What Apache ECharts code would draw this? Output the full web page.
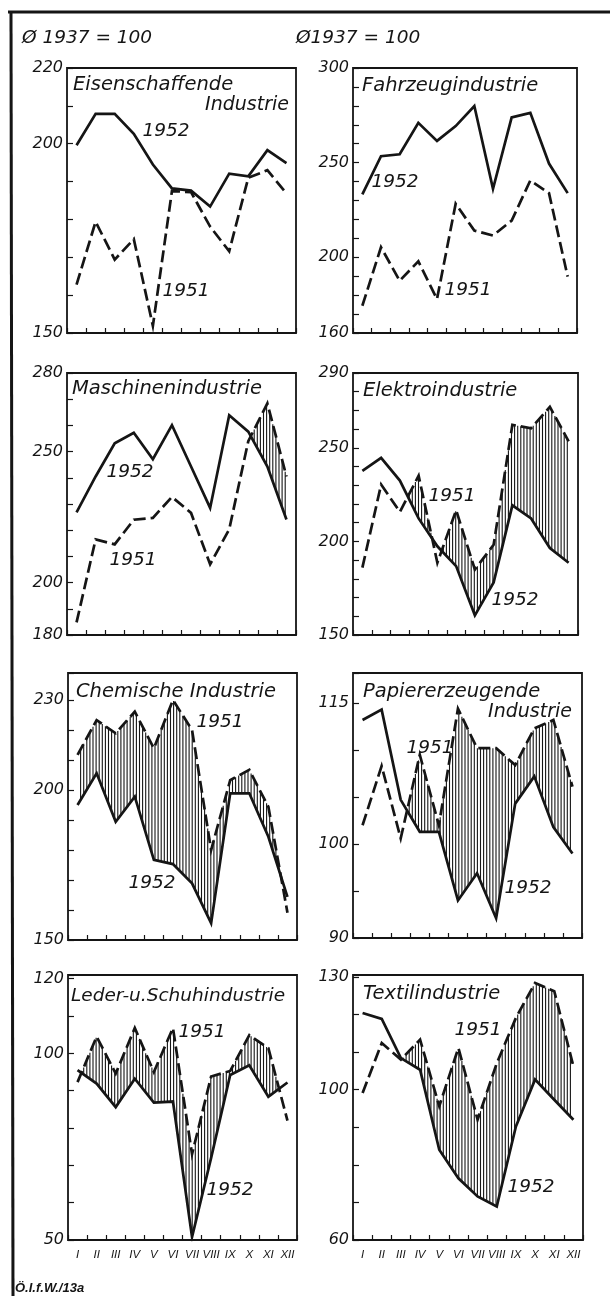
<!DOCTYPE html>
<html>
<head>
<meta charset="utf-8">
<script src="https://cdn.jsdelivr.net/npm/echarts@6/dist/echarts.min.js"></script>
<style>
  html, body { margin: 0; padding: 0; background: #fff; }
  #chart { width: 610px; height: 1296px; }
</style>
</head>
<body>
<div id="chart"></div>
<script>
// ---------- data ----------
const months = ['I','II','III','IV','V','VI','VII','VIII','IX','X','XI','XII'];

const eisen1952   = [199.6, 207.9, 207.9, 202.6, 194.5, 188.2, 187.6, 183.4, 192.1, 191.4, 198.3, 194.9];
const eisen1951   = [162.8, 179.4, 169.4, 174.8, 151.9, 187.5, 187.2, 178.1, 171.6, 191.0, 193.0, 186.9];

const fahrzeug1952 = [233.2, 253.4, 254.4, 271.0, 261.5, 269.3, 279.9, 236.2, 273.9, 276.3, 249.5, 233.9];
const fahrzeug1951 = [174.4, 205.3, 187.6, 197.9, 177.9, 228.3, 214.1, 211.5, 219.4, 240.6, 233.9, 189.8];

const masch1952 = [226.8, 240.5, 253.2, 257.2, 247.1, 260.1, 244.3, 228.5, 263.9, 257.6, 244.3, 224.1];
const masch1951 = [184.8, 216.5, 214.6, 224.0, 224.7, 232.7, 226.6, 207.0, 220.3, 254.0, 268.4, 240.5];

const elektro1952 = [237.7, 244.7, 232.5, 212.3, 197.4, 186.8, 160.5, 178.1, 219.3, 212.3, 196.5, 188.6];
const elektro1951 = [186.0, 230.4, 215.8, 235.1, 188.6, 216.7, 185.0, 198.2, 262.3, 260.5, 271.9, 253.5];

const chem1952 = [195.0, 205.6, 189.4, 197.8, 176.7, 175.3, 168.9, 155.6, 198.9, 198.9, 184.4, 164.4];
const chem1951 = [211.7, 223.3, 218.9, 226.1, 213.9, 230.0, 220.0, 180.0, 203.3, 206.7, 194.4, 159.1];

const papier1952 = [113.2, 114.3, 104.7, 101.3, 101.3, 94.0, 96.9, 92.1, 104.3, 107.2, 101.8, 99.0];
const papier1951 = [102.0, 108.3, 100.6, 109.5, 102.0, 114.4, 110.2, 110.2, 108.4, 112.3, 113.2, 106.1];

const leder1952 = [95.5, 91.9, 85.6, 93.2, 86.8, 87.1, 50.8, 72.0, 94.2, 96.8, 88.4, 92.2];
const leder1951 = [92.3, 104.5, 94.6, 106.8, 95.0, 106.8, 73.0, 93.8, 95.3, 104.9, 101.4, 82.0];

const textil1952 = [120.4, 118.8, 108.4, 105.3, 84.0, 76.4, 71.6, 68.9, 90.2, 102.7, 97.3, 92.0];
const textil1951 = [99.1, 112.4, 108.0, 113.3, 95.6, 111.1, 92.0, 107.0, 119.1, 128.4, 126.2, 106.2];

// tick labels shown on each y axis
const eisenTicks    = [220, 200, 150];
const fahrzeugTicks = [300, 250, 200, 160];
const maschTicks    = [280, 250, 200, 180];
const elektroTicks  = [290, 250, 200, 150];
const chemTicks     = [230, 200, 150];
const papierTicks   = [115, 100, 90];
const lederTicks    = [120, 100, 50];
const textilTicks   = [130, 100, 60];

// ---------- layout / styling ----------
const INK = '#151515';
const FONT = '"DejaVu Sans", "Noto Sans", sans-serif';

const panels = [
  { d52: eisen1952, d51: eisen1951, ticks: eisenTicks, min: 150, max: 220, step: 10,
    grid: { left: 67, top: 68, width: 229, height: 265 } },
  { d52: fahrzeug1952, d51: fahrzeug1951, ticks: fahrzeugTicks, min: 160, max: 300, step: 10,
    grid: { left: 353, top: 68, width: 224, height: 265 } },
  { d52: masch1952, d51: masch1951, ticks: maschTicks, min: 180, max: 280, step: 10,
    grid: { left: 67, top: 373, width: 229, height: 262 } },
  { d52: elektro1952, d51: elektro1951, ticks: elektroTicks, min: 150, max: 290, step: 10,
    grid: { left: 353, top: 373, width: 225, height: 262 } },
  { d52: chem1952, d51: chem1951, ticks: chemTicks, min: 150, max: 239, step: 10,
    grid: { left: 68, top: 673, width: 229, height: 267 } },
  { d52: papier1952, d51: papier1951, ticks: papierTicks, min: 90, max: 118.2, step: 5,
    grid: { left: 353, top: 673, width: 229, height: 265 } },
  { d52: leder1952, d51: leder1951, ticks: lederTicks, min: 50, max: 121, step: 10,
    grid: { left: 68, top: 975, width: 229, height: 265 }, showMonths: true },
  { d52: textil1952, d51: textil1951, ticks: textilTicks, min: 60, max: 130.5, step: 10,
    grid: { left: 353, top: 975, width: 230, height: 265 }, showMonths: true }
];

const HATCH_STEP = 3.1;

function hatchRender(params, api) {
  const i = api.value(0);
  const a51 = api.coord([i, api.value(1)]);
  const a52 = api.coord([i, api.value(2)]);
  const b51 = api.coord([i + 1, api.value(3)]);
  const b52 = api.coord([i + 1, api.value(4)]);
  const x0 = a51[0], x1 = b51[0];
  const children = [];
  let x = Math.ceil(x0 / HATCH_STEP) * HATCH_STEP;
  for (; x <= x1; x += HATCH_STEP) {
    const t = (x - x0) / (x1 - x0);
    const yu = a51[1] + t * (b51[1] - a51[1]);
    const yl = a52[1] + t * (b52[1] - a52[1]);
    if (yu < yl - 0.8) {
      children.push({
        type: 'line',
        shape: { x1: x, y1: yu, x2: x, y2: yl },
        style: { stroke: INK, lineWidth: 1.1 }
      });
    }
  }
  return { type: 'group', children: children };
}

const grids = [], xAxes = [], yAxes = [], series = [];

panels.forEach((p, k) => {
  grids.push(Object.assign({
    show: true, borderColor: INK, borderWidth: 1.8, backgroundColor: 'transparent',
    containLabel: false
  }, p.grid));

  xAxes.push({
    type: 'category', gridIndex: k, data: months, boundaryGap: true,
    axisLine: { show: false },
    axisTick: { show: true, inside: true, length: 5, lineStyle: { color: INK, width: 1.2 } },
    axisLabel: {
      show: !!p.showMonths, interval: 0, margin: 9,
      fontFamily: '"Liberation Sans", sans-serif',
      fontStyle: 'italic', fontWeight: 'normal', fontSize: 11.5, color: INK
    },
    splitLine: { show: false }
  });

  const tickSet = p.ticks;
  yAxes.push({
    type: 'value', gridIndex: k, min: p.min, max: p.max, interval: p.step,
    axisLine: { show: false },
    axisTick: { show: true, inside: true, length: 6, lineStyle: { color: INK, width: 1.2 } },
    splitLine: { show: false },
    axisLabel: {
      margin: 4, fontFamily: FONT, fontStyle: 'italic', fontSize: 16, color: INK,
      showMinLabel: true, showMaxLabel: true,
      formatter: v => (tickSet.indexOf(Math.round(v * 10) / 10) >= 0 ? String(v) : '')
    }
  });

  const segs = [];
  for (let i = 0; i < months.length - 1; i++) {
    segs.push([i, p.d51[i], p.d52[i], p.d51[i + 1], p.d52[i + 1]]);
  }
  series.push({
    type: 'custom', xAxisIndex: k, yAxisIndex: k, silent: true, z: 1,
    renderItem: hatchRender, data: segs,
    encode: { x: 0, y: [1, 2, 3, 4] }
  });
  series.push({
    name: '1952', type: 'line', xAxisIndex: k, yAxisIndex: k, data: p.d52,
    symbol: 'none', silent: true, z: 3,
    lineStyle: { color: INK, width: 2.7, join: 'miter', cap: 'butt' }
  });
  series.push({
    name: '1951', type: 'line', xAxisIndex: k, yAxisIndex: k, data: p.d51,
    symbol: 'none', silent: true, z: 3,
    lineStyle: { color: INK, width: 2.7, type: [12, 5], join: 'miter', cap: 'butt' }
  });
});

function txt(text, x, y, size, align) {
  const a = align || 'left';
  return {
    type: 'text', x: x, y: y, silent: true, z: 10,
    style: {
      text: text, fill: INK,
      font: 'italic ' + size + 'px ' + FONT,
      textAlign: a, textVerticalAlign: 'middle',
      align: a, verticalAlign: 'middle'
    }
  };
}

const graphics = [
  // outer frame lines
  { type: 'line', silent: true, shape: { x1: 8, y1: 12, x2: 610, y2: 12 }, style: { stroke: INK, lineWidth: 3 } },
  { type: 'line', silent: true, shape: { x1: 11, y1: 11, x2: 13, y2: 1296 }, style: { stroke: INK, lineWidth: 3 } },
  // headers
  txt('Ø 1937 = 100', 22, 38, 18.5),
  txt('Ø1937 = 100', 296, 38, 18.5),
  // panel titles
  txt('Eisenschaffende', 73, 85, 19.5),
  txt('Industrie', 289, 105, 19, 'right'),
  txt('Fahrzeugindustrie', 362, 86, 19.5),
  txt('Maschinenindustrie', 72, 389, 19.5),
  txt('Elektroindustrie', 363, 391, 19.5),
  txt('Chemische Industrie', 76, 692, 19.5),
  txt('Papiererzeugende', 363, 692, 19.5),
  txt('Industrie', 572, 712, 19, 'right'),
  txt('Leder-u.Schuhindustrie', 71, 996, 18.5),
  txt('Textilindustrie', 363, 994, 19.5),
  // year labels
  txt('1952', 166, 131, 18.5, 'center'),
  txt('1951', 186, 291, 18.5, 'center'),
  txt('1952', 395, 182, 18.5, 'center'),
  txt('1951', 468, 290, 18.5, 'center'),
  txt('1952', 130, 472, 18.5, 'center'),
  txt('1951', 133, 560, 18.5, 'center'),
  txt('1951', 452, 496, 18.5, 'center'),
  txt('1952', 515, 600, 18.5, 'center'),
  txt('1951', 220, 722, 18.5, 'center'),
  txt('1952', 152, 883, 18.5, 'center'),
  txt('1951', 430, 748, 18.5, 'center'),
  txt('1952', 528, 888, 18.5, 'center'),
  txt('1951', 202, 1032, 18.5, 'center'),
  txt('1952', 230, 1190, 18.5, 'center'),
  txt('1951', 478, 1030, 18.5, 'center'),
  txt('1952', 531, 1187, 18.5, 'center'),
  // source mark
  {
    type: 'text', x: 15, y: 1288, silent: true, z: 10,
    style: {
      text: 'Ö.I.f.W./13a', fill: INK,
      font: 'italic bold 13px "Liberation Sans", sans-serif',
      textVerticalAlign: 'middle', verticalAlign: 'middle'
    }
  }
];

const chart = echarts.init(document.getElementById('chart'), null, { renderer: 'canvas' });
chart.setOption({
  animation: false,
  backgroundColor: '#ffffff',
  grid: grids,
  xAxis: xAxes,
  yAxis: yAxes,
  series: series,
  graphic: graphics
});
</script>
</body>
</html>
